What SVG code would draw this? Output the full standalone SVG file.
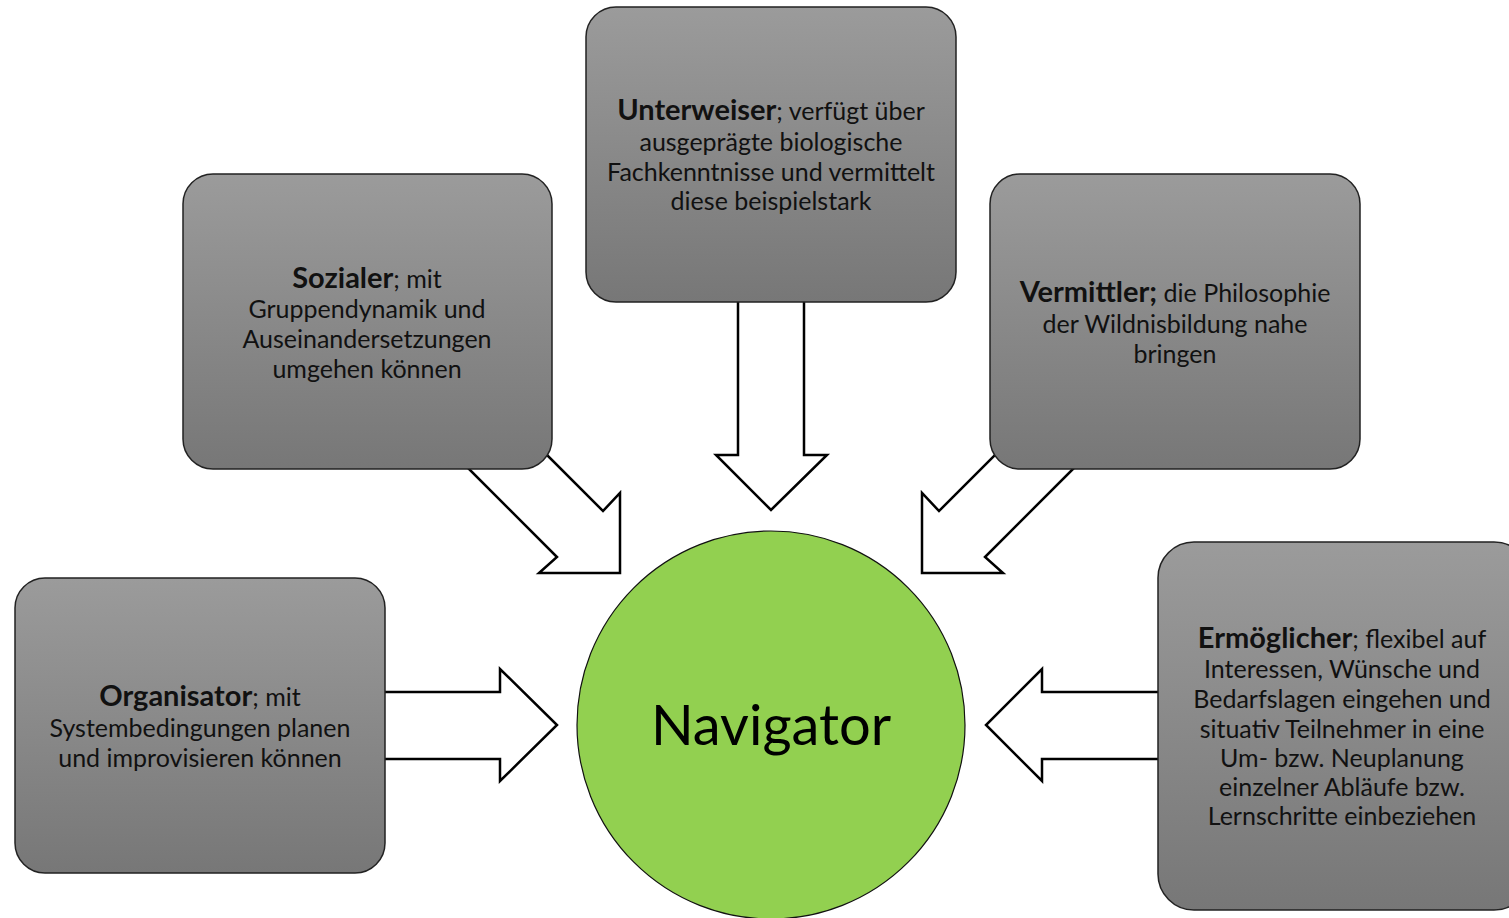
<svg xmlns="http://www.w3.org/2000/svg" width="1509" height="918" viewBox="0 0 1509 918">
<defs>
<linearGradient id="g" x1="0" y1="0" x2="0" y2="1">
<stop offset="0" stop-color="#9b9b9b"/>
<stop offset="1" stop-color="#777777"/>
</linearGradient>
<style>
.box{fill:url(#g);stroke:#222;stroke-width:1.5}
.arr{fill:#fff;stroke:#000;stroke-width:2.5;stroke-linejoin:miter}
.t{font-family:Lato,"Liberation Sans",sans-serif;font-size:25px;fill:#111;text-anchor:middle}
.b{font-weight:bold;font-size:29px}
</style>
</defs>
<rect width="1509" height="918" fill="#fff"/>
<g id="connectors">
<path class="arr" d="M738,250 L738,455 L716,455 L771,510 L827,455 L804,455 L804,250 Z"/>
<path class="arr" d="M330,692 L500,692 L500,669 L557,725 L500,781 L500,759 L330,759 Z"/>
<path class="arr" d="M1200,692 L1042,692 L1042,669 L986,725 L1042,781 L1042,759 L1200,759 Z"/>
<path class="arr" d="M520,428 L603,511 L620,493 L620,573 L539,573 L557,557 L440,440 Z"/>
<path class="arr" d="M1022,428 L939,511 L922,493 L922,573 L1003,573 L985,557 L1102,440 Z"/>
</g>
<g id="sozialer">
<rect class="box" x="183" y="174" width="369" height="295" rx="30"/>
<text class="t" x="367" y="288"><tspan class="b">Sozialer</tspan>; mit</text>
<text class="t" x="367" y="318">Gruppendynamik und</text>
<text class="t" x="367" y="348">Auseinandersetzungen</text>
<text class="t" x="367" y="378">umgehen können</text>
</g>
<g id="unterweiser">
<rect class="box" x="586" y="7" width="370" height="295" rx="30"/>
<text class="t" x="771" y="120"><tspan class="b">Unterweiser</tspan>; verfügt über</text>
<text class="t" x="771" y="151">ausgeprägte biologische</text>
<text class="t" x="771" y="181">Fachkenntnisse und vermittelt</text>
<text class="t" x="771" y="210">diese beispielstark</text>
</g>
<g id="vermittler">
<rect class="box" x="990" y="174" width="370" height="295" rx="30"/>
<text class="t" x="1175" y="302"><tspan class="b">Vermittler;</tspan> die Philosophie</text>
<text class="t" x="1175" y="333">der Wildnisbildung nahe</text>
<text class="t" x="1175" y="363">bringen</text>
</g>
<g id="organisator">
<rect class="box" x="15" y="578" width="370" height="295" rx="30"/>
<text class="t" x="200" y="706"><tspan class="b">Organisator</tspan>; mit</text>
<text class="t" x="200" y="737">Systembedingungen planen</text>
<text class="t" x="200" y="767">und improvisieren können</text>
</g>
<g id="ermoeglicher">
<rect class="box" x="1158" y="542" width="372" height="368" rx="36"/>
<text class="t" x="1342" y="648"><tspan class="b">Ermöglicher</tspan>; flexibel auf</text>
<text class="t" x="1342" y="678">Interessen, Wünsche und</text>
<text class="t" x="1342" y="708">Bedarfslagen eingehen und</text>
<text class="t" x="1342" y="738">situativ Teilnehmer in eine</text>
<text class="t" x="1342" y="767">Um- bzw. Neuplanung</text>
<text class="t" x="1342" y="796">einzelner Abläufe bzw.</text>
<text class="t" x="1342" y="825">Lernschritte einbeziehen</text>
</g>
<g id="navigator">
<circle cx="771" cy="725" r="194" fill="#92d050" stroke="#111" stroke-width="1.2"/>
<text x="771" y="745" font-family="Lato,'Liberation Sans',sans-serif" font-size="56" text-anchor="middle" fill="#000">Navigator</text>
</g>
</svg>
